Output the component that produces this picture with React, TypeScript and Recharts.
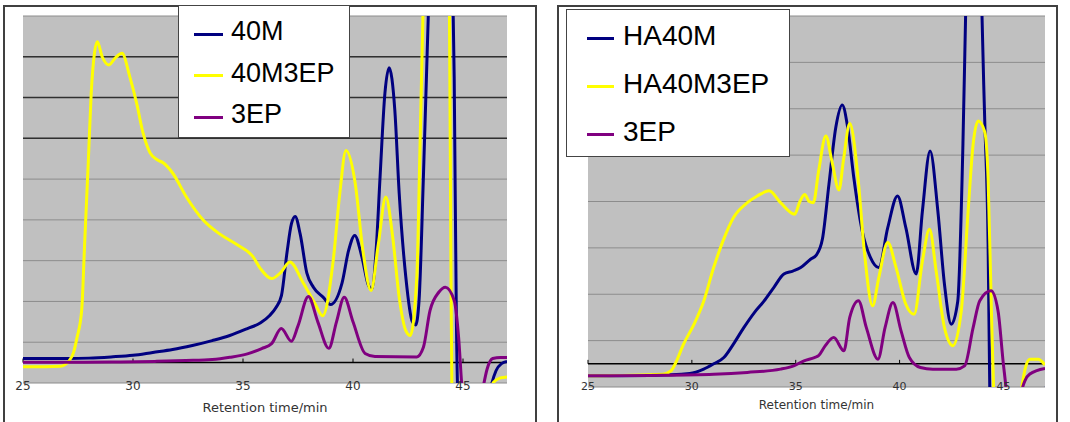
import React from "react";
import { LineChart, Line, XAxis, YAxis, CartesianGrid, ReferenceLine, Legend } from "recharts";

type Pt = [number, number];

// retention time (min) ticks shared by both panels
const xTicks = [25, 30, 35, 40, 45];
const leftYTicks = [-1, 1, 3, 5, 7, 9, 11, 13, 15, 17];
const rightYTicks = [-1, 1, 3, 5, 7, 9, 11, 13, 15];
const leftDarkLines = [11, 13, 15];

const leftNames = ["40M", "40M3EP", "3EP"];
const rightNames = ["HA40M", "HA40M3EP", "3EP"];
const colors = ["#000080", "#ffff00", "#800080"];

// left panel: [time, signal]
const left40M: Pt[] = [
  [25, 0.2], [26, 0.2], [27, 0.2], [28, 0.22], [29, 0.28], [30, 0.36], [30.9, 0.5], [31.8, 0.64],
  [32.7, 0.84], [33.6, 1.08], [34.4, 1.33], [35.2, 1.67], [35.8, 1.95], [36.2, 2.3], [36.5, 2.7],
  [36.75, 3.3], [37.0, 5.4], [37.2, 6.8], [37.37, 7.17], [37.6, 6.3], [37.9, 4.4], [38.2, 3.7],
  [38.65, 3.2], [38.98, 2.85], [39.5, 3.9], [39.8, 5.5], [40.08, 6.24], [40.4, 5.2], [40.7, 3.8],
  [40.85, 3.6], [41.05, 5.5], [41.23, 9.1], [41.45, 13.2], [41.64, 14.46], [41.9, 12.4], [42.1, 8.3],
  [42.4, 4.2], [42.7, 2.0], [42.85, 1.85], [43.0, 3.0], [43.2, 9.1], [43.45, 18], [43.7, 26],
  [44.1, 30], [44.45, 24], [44.6, 14], [44.7, 2], [44.78, -2], [45.2, -5], [46.0, -3],
  [46.25, -1.3], [46.5, -0.4], [46.75, -0.05], [47, 0.05],
];
const left40M3EP: Pt[] = [
  [25, -0.2], [26, -0.2], [26.7, -0.18], [27.1, 0.1], [27.3, 0.5], [27.45, 1.2], [27.67, 2.6],
  [27.8, 5.8], [27.97, 9.9], [28.1, 13.2], [28.25, 15.2], [28.38, 15.74], [28.6, 15.0], [28.9, 14.6],
  [29.2, 14.95], [29.5, 15.17], [29.86, 14.0], [30.17, 12.7], [30.46, 11.25], [30.77, 10.3],
  [31.1, 9.95], [31.37, 9.8], [31.8, 9.3], [32.44, 8.1], [33.2, 6.98], [33.95, 6.3], [34.7, 5.8],
  [35.45, 5.2], [35.8, 4.6], [36.3, 4.12], [36.7, 4.4], [37.13, 4.93], [37.74, 3.9], [38.27, 2.9],
  [38.62, 2.3], [39.1, 5.0], [39.4, 8.3], [39.68, 10.4], [40.1, 8.8], [40.45, 5.5], [40.82, 3.54],
  [41.15, 5.8], [41.49, 8.12], [41.8, 6.2], [42.1, 3.2], [42.4, 1.57], [42.6, 1.33], [42.9, 4.2],
  [43.05, 10.8], [43.2, 18], [43.5, 28], [43.9, 32], [44.2, 28], [44.38, 18], [44.45, 5],
  [44.5, -2], [44.6, -5], [45.5, -6], [46.0, -3], [46.2, -1.5], [46.4, -0.95], [46.7, -0.75], [47, -0.7],
];
const left3EP: Pt[] = [
  [25, 0.02], [27, 0.02], [29, 0.03], [31, 0.06], [32.4, 0.1], [33.6, 0.15], [34.4, 0.26],
  [35.2, 0.43], [35.85, 0.69], [36.3, 0.93], [36.74, 1.67], [37.2, 1.05], [37.5, 1.8], [37.97, 3.24],
  [38.4, 2.0], [38.9, 0.7], [39.25, 2.0], [39.6, 3.2], [40.0, 2.0], [40.55, 0.45], [41.0, 0.3],
  [42.9, 0.28], [43.2, 0.75], [43.5, 2.55], [43.9, 3.45], [44.2, 3.7], [44.6, 3.05], [44.8, 1.25],
  [44.95, -1.2], [45.1, -3], [45.5, -4], [45.9, -1.3], [46.1, -0.3], [46.35, 0.2], [46.7, 0.25], [47, 0.25],
];

// right panel: [time, signal]
const rightHA40M: Pt[] = [
  [25, -0.52], [28, -0.5], [29.9, -0.42], [30.57, -0.23], [31.05, 0], [31.54, 0.27], [32.0, 0.85],
  [32.5, 1.56], [33.0, 2.2], [33.47, 2.7], [33.95, 3.3], [34.43, 3.87], [34.86, 4.0], [35.24, 4.15],
  [35.7, 4.5], [36.0, 4.7], [36.29, 5.4], [36.6, 7.75], [36.93, 10.2], [37.24, 11.16], [37.5, 10.2],
  [37.8, 8.0], [38.2, 5.73], [38.6, 4.58], [39.0, 4.15], [39.43, 5.87], [39.9, 7.24], [40.3, 5.87],
  [40.8, 3.87], [41.1, 6.6], [41.47, 9.18], [41.84, 6.6], [42.16, 3.43], [42.49, 1.71], [42.8, 2.7],
  [43.05, 9.5], [43.2, 16], [43.4, 24], [43.6, 28], [43.8, 24], [43.94, 16], [44.1, 10.47],
  [44.26, 5.17], [44.34, -1], [44.45, -4], [45, -6], [46, -3], [46.6, -1.15], [47, -1.05],
];
const rightHA40M3EP: Pt[] = [
  [25, -0.52], [28.6, -0.45], [29.0, -0.3], [29.2, 0], [29.6, 0.85], [30.1, 1.7], [30.57, 2.7],
  [31.05, 4.15], [31.5, 5.3], [32.0, 6.3], [32.67, 6.95], [33.15, 7.24], [33.72, 7.46], [34.27, 6.95],
  [34.95, 6.45], [35.2, 7.0], [35.43, 7.3], [35.65, 7.0], [35.85, 6.95], [36.1, 8.3], [36.45, 9.83],
  [36.75, 8.7], [37.08, 7.5], [37.3, 8.8], [37.6, 10.36], [38.0, 8.0], [38.3, 4.87], [38.7, 2.5],
  [39.0, 3.72], [39.43, 5.23], [39.83, 4.15], [40.3, 2.57], [40.7, 2.14], [41.1, 4.44], [41.44, 5.8],
  [41.76, 4.0], [42.16, 1.56], [42.57, 0.78], [42.97, 2.28], [43.3, 6.6], [43.54, 9.47], [43.78, 10.47],
  [44.1, 10.0], [44.26, 8.0], [44.42, 2.28], [44.53, -1.2], [44.7, -4], [45.5, -4], [45.87, -1.1],
  [46.05, -0.2], [46.27, 0.2], [46.67, 0.2], [47, -0.05],
];
const right3EP: Pt[] = [
  [25, -0.52], [28, -0.5], [31.05, -0.45], [32.67, -0.37], [34.27, -0.23], [34.9, -0.09], [35.4, 0.13],
  [35.9, 0.27], [36.1, 0.35], [36.4, 0.75], [36.83, 1.13], [37.32, 0.56], [37.6, 2.0], [38.02, 2.72],
  [38.4, 1.56], [38.96, 0.2], [39.3, 1.56], [39.68, 2.64], [40.07, 1.42], [40.47, 0.27], [41.0, -0.16],
  [41.6, -0.23], [42.73, -0.23], [43.13, -0.09], [43.54, 1.56], [43.86, 2.72], [44.4, 3.15],
  [44.74, 2.28], [44.98, 0.13], [45.14, -1.2], [45.3, -3], [45.6, -3], [45.87, -1.2], [46.05, -0.7],
  [46.27, -0.44], [47, -0.2],
];

const toRows = (pts: Pt[]) => pts.map(([t, v]) => ({ t, v }));

// @ts-ignore
function LegendBox(props) {
  const { payload, box, names } = props;
  const items = [...(payload || [])].sort(
    (a: any, b: any) => names.indexOf(a.value) - names.indexOf(b.value)
  );
  return (
    <div
      style={{
        position: "relative",
        width: box.w,
        height: box.h,
        boxSizing: "border-box",
        border: "1px solid #444",
        background: "#fff",
      }}
    >
      {items.map((p: any, i: number) => (
        <div
          key={i}
          style={{ position: "absolute", left: 0, top: box.rowTop + i * box.rowGap, height: 0, width: "100%" }}
        >
          <div
            style={{
              position: "absolute",
              left: box.lineX,
              top: -1.5,
              width: box.lineW,
              height: 3,
              background: p.color,
            }}
          />
          <div
            style={{
              position: "absolute",
              left: box.textX,
              top: -box.fs * 0.58,
              fontSize: box.fs,
              lineHeight: `${box.fs}px`,
              fontFamily: "'Liberation Sans', Arial, sans-serif",
              color: "#000",
              whiteSpace: "nowrap",
            }}
          >
            {p.value}
          </div>
        </div>
      ))}
    </div>
  );
}

// @ts-ignore
function Panel(props) {
  const { w, h, margin, axisH, yMax, yTicks, dark, series, names, box, tickFs, tickDy, titleFs, titleOffset, tickH } = props;
  return (
    <LineChart width={w} height={h} margin={margin}>
      <CartesianGrid vertical={false} fill="#c0c0c0" stroke="#8c8c8c" strokeWidth={1} />
      {dark.map((v: number) => (
        <ReferenceLine key={"d" + v} y={v} stroke="#303030" strokeWidth={1.5} />
      ))}
      <XAxis
        type="number"
        dataKey="t"
        domain={[25, 47]}
        ticks={xTicks}
        allowDataOverflow
        axisLine={false}
        tickLine={false}
        tickSize={0}
        tickMargin={0}
        height={axisH}
        interval={0}
        // @ts-ignore
        tick={(p) => (
          <text
            x={p.x}
            y={p.y}
            dy={tickDy}
            textAnchor="middle"
            fontSize={tickFs}
            fill="#333"
            fontFamily="'DejaVu Sans', sans-serif"
          >
            {p.payload.value}
          </text>
        )}
        label={{
          value: "Retention time/min",
          position: "insideBottom",
          offset: titleOffset,
          fontSize: titleFs,
          fill: "#333",
          fontFamily: "'DejaVu Sans', sans-serif",
        }}
      />
      <YAxis type="number" domain={[-1, yMax]} ticks={yTicks} allowDataOverflow hide />
      <ReferenceLine y={0} stroke="#000" strokeWidth={1.5} />
      {xTicks.map((t) => (
        <ReferenceLine
          key={"t" + t}
          segment={[
            { x: t, y: 0 },
            { x: t, y: tickH },
          ]}
          stroke="#000"
          strokeWidth={1}
        />
      ))}
      {series.map((s: Pt[], i: number) => (
        <Line
          key={names[i]}
          data={toRows(s)}
          dataKey="v"
          name={names[i]}
          type="monotone"
          stroke={colors[i]}
          strokeWidth={3}
          dot={false}
          activeDot={false}
          isAnimationActive={false}
        />
      ))}
      <Legend
        layout="horizontal"
        verticalAlign="middle"
        align="center"
        wrapperStyle={{ position: "absolute", left: box.x, top: box.y, width: box.w, height: box.h }}
        // @ts-ignore
        content={(p) => <LegendBox payload={p.payload} box={box} names={names} />}
      />
    </LineChart>
  );
}

export default function App() {
  return (
    <div
      style={{
        position: "absolute",
        left: 0,
        top: 0,
        width: 1070,
        height: 422,
        background: "#fff",
        overflow: "hidden",
      }}
    >
      <div
        style={{
          position: "absolute",
          left: 3,
          top: 5,
          width: 534,
          height: 440,
          boxSizing: "border-box",
          border: "2px solid #404040",
        }}
      />
      <div
        style={{
          position: "absolute",
          left: 557,
          top: 5,
          width: 501,
          height: 440,
          boxSizing: "border-box",
          border: "2px solid #404040",
        }}
      />
      <div style={{ position: "absolute", left: 0, top: 0 }}>
        <Panel
          w={540}
          h={422}
          margin={{ top: 16, left: 23, right: 33, bottom: 0 }}
          axisH={39}
          yMax={17}
          yTicks={leftYTicks}
          dark={leftDarkLines}
          series={[left40M, left40M3EP, left3EP]}
          names={leftNames}
          box={{ x: 178, y: 5, w: 172, h: 133, rowTop: 28, rowGap: 41.5, lineX: 15, lineW: 29, textX: 52, fs: 27 }}
          tickFs={12}
          tickDy={7}
          titleFs={13}
          titleOffset={10}
          tickH={0.2}
        />
      </div>
      <div style={{ position: "absolute", left: 540, top: 0 }}>
        <Panel
          w={530}
          h={422}
          margin={{ top: 16, left: 48, right: 25, bottom: 0 }}
          axisH={35}
          yMax={15}
          yTicks={rightYTicks}
          dark={[]}
          series={[rightHA40M, rightHA40M3EP, right3EP]}
          names={rightNames}
          box={{ x: 26, y: 9, w: 224, h: 148, rowTop: 28, rowGap: 48, lineX: 20, lineW: 27, textX: 56, fs: 28 }}
          tickFs={11}
          tickDy={3}
          titleFs={12}
          titleOffset={13}
          tickH={0.17}
        />
      </div>
    </div>
  );
}
